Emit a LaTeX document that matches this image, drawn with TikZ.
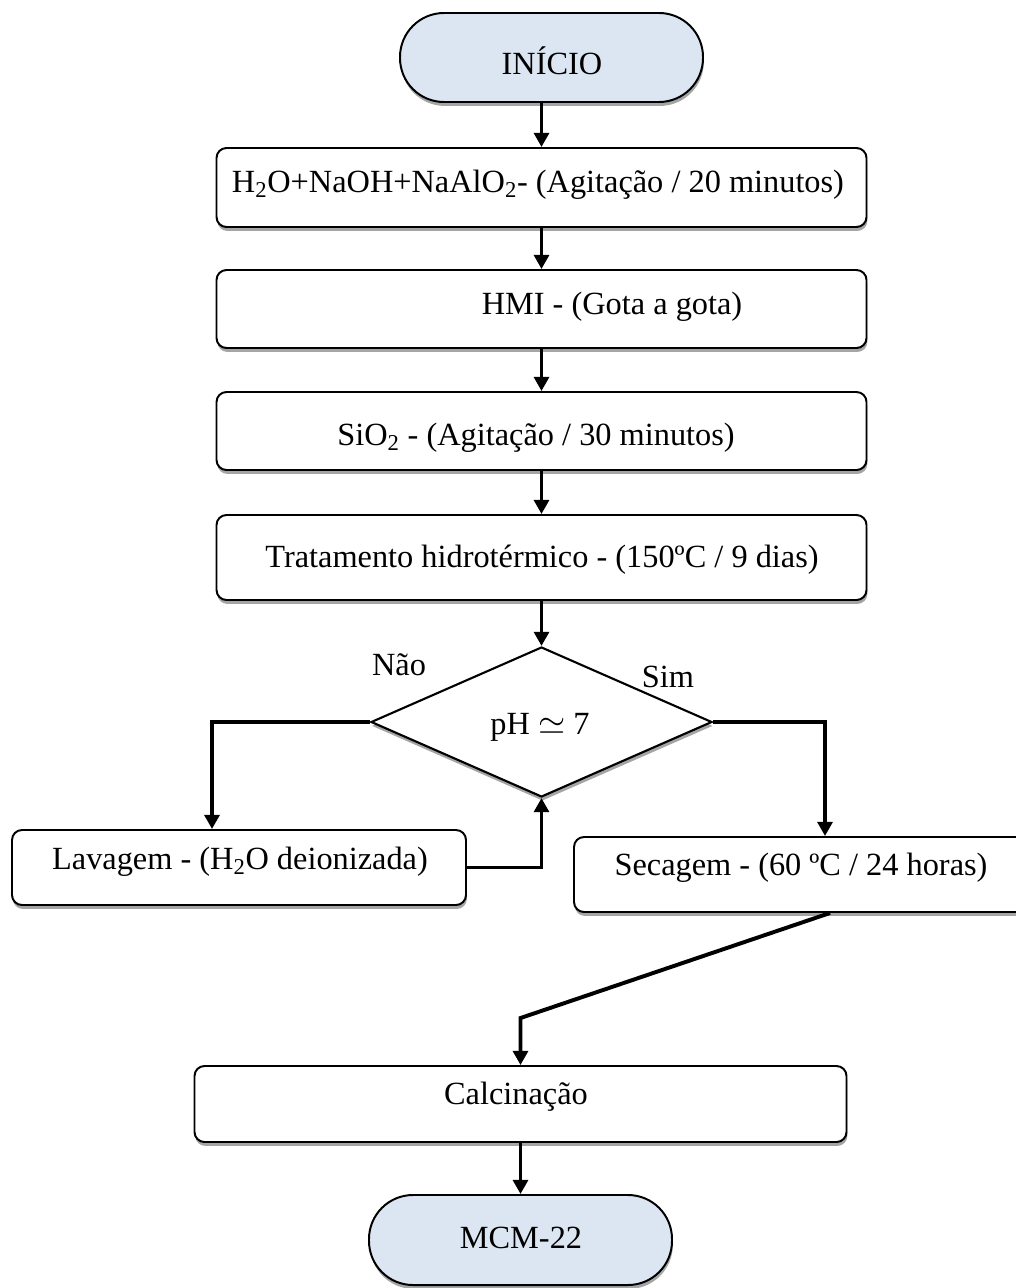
\documentclass[tikz,border=0pt]{standalone}
\usepackage{fontspec}
\setmainfont{Liberation Serif}
\usetikzlibrary{arrows.meta,shapes.geometric,shadows,calc}

\definecolor{termfill}{RGB}{220,230,242}
\definecolor{shadowgray}{RGB}{165,165,165}
\newcommand{\unitpx}{0.025cm}

\tikzset{
  every node/.style={font=\fontsize{23}{28}\selectfont},
  shade box/.style={drop shadow={shadow xshift=0.6pt, shadow yshift=-2.8pt, fill=shadowgray, opacity=1}},
  stepbox/.style={draw, line width=1.4pt, fill=white, rounded corners=0.25cm, inner sep=0pt, shade box},
  terminal/.style={draw, line width=1.4pt, fill=termfill, rounded corners=1.1cm, inner sep=0pt, shade box},
  decision/.style={diamond, draw, line width=1.5pt, fill=white, inner sep=0pt, shade box},
  flow/.style={line width=2.8pt, -{Triangle[length=10pt,width=10.5pt]}},
  lbl/.style={inner sep=0pt}
}

\begin{document}
\begin{tikzpicture}[x=0.025cm, y=-0.025cm]
  \useasboundingbox (0,0) rectangle (1016,1288);
  \clip (0,0) rectangle (1016,1288);

  % terminals
  \node[terminal, minimum width={303*\unitpx}, minimum height={89*\unitpx}] (ini) at (551.5,57.5) {};
  \node[lbl] (tini) at (552,61) {INÍCIO};

  \node[terminal, minimum width={303*\unitpx}, minimum height={90*\unitpx}] (mcm) at (520.5,1240) {};
  \node[lbl] (tmcm) at (521,1238) {MCM-22};

  % process steps
  \node[stepbox, minimum width={650*\unitpx}, minimum height={79*\unitpx}] (b1) at (541.5,187.5) {};
  \node[lbl] (t1) at (538,185) {H\textsubscript{2}O+NaOH+NaAlO\textsubscript{2}- (Agitação / 20 minutos)};

  \node[stepbox, minimum width={650*\unitpx}, minimum height={78*\unitpx}] (b2) at (541.5,309) {};
  \node[lbl] (t2) at (612,307) {HMI - (Gota a gota)};

  \node[stepbox, minimum width={650*\unitpx}, minimum height={78*\unitpx}] (b3) at (541.5,431) {};
  \node[lbl] (t3) at (536,438) {SiO\textsubscript{2} - (Agitação / 30 minutos)};

  \node[stepbox, minimum width={650*\unitpx}, minimum height={85*\unitpx}] (b4) at (541.5,557.5) {};
  \node[lbl] (t4) at (542,560) {Tratamento hidrotérmico - (150ºC / 9 dias)};

  % decision
  \node[decision, minimum width={341*\unitpx}, minimum height={150*\unitpx}] (d) at (541.5,722) {};
  \node[lbl] (td) at (540,727) {pH $\simeq$ 7};
  \node[lbl] (nao) at (399,665) {Não};
  \node[lbl] (sim) at (668,677) {Sim};

  % branches
  \node[stepbox, minimum width={454*\unitpx}, minimum height={75*\unitpx}] (lav) at (239,867.5) {};
  \node[lbl] (tlav) at (240,862) {Lavagem - (H\textsubscript{2}O deionizada)};

  \node[stepbox, minimum width={456*\unitpx}, minimum height={75*\unitpx}] (sec) at (802,874.5) {};
  \node[lbl] (tsec) at (801,868) {Secagem - (60 ºC / 24 horas)};

  \node[stepbox, minimum width={652*\unitpx}, minimum height={76*\unitpx}] (calc) at (520.5,1104) {};
  \node[lbl] (tcalc) at (516,1097) {Calcinação};

  % connectors
  \draw[flow] (ini.south -| b1.north) -- (b1.north);
  \draw[flow] (b1.south) -- (b2.north);
  \draw[flow] (b2.south) -- (b3.north);
  \draw[flow] (b3.south) -- (b4.north);
  \draw[flow] (b4.south) -- (d.north);
  \draw[flow] (d.west) -| ([xshift={-27*\unitpx}]lav.north);
  \draw[flow] (lav.east) -| (d.south);
  \draw[flow] (d.east) -| ([xshift={23*\unitpx}]sec.north);
  \draw[flow] ([xshift={28*\unitpx}]sec.south) -- ($(calc.north)+(0,-47)$) -- (calc.north);
  \draw[flow] (calc.south) -- (mcm.north);
\end{tikzpicture}
\end{document}
